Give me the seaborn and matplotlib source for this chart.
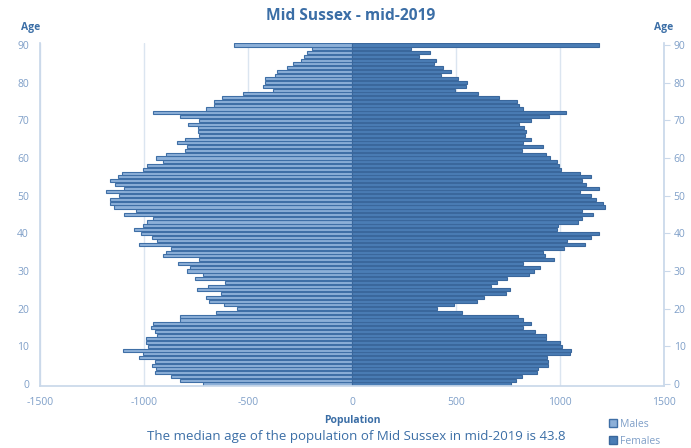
import numpy as np
import pandas as pd
import matplotlib
matplotlib.use("Agg")
import matplotlib.pyplot as plt
import seaborn as sns
from matplotlib.patches import Patch

ages = list(range(0, 91))
# Males (ages 0..90), shown as negative values
males = [-715, -825, -872, -946, -941, -962, -946, -1026, -1007, -1100,
         -981, -992, -992, -938, -949, -965, -957, -825, -825, -654,
         -551, -614, -689, -702, -630, -747, -692, -609, -755, -715,
         -793, -779, -835, -736, -907, -893, -869, -1026, -938, -963,
         -1013, -1047, -1005, -984, -957, -1095, -1039, -1146, -1165, -1162,
         -1122, -1183, -1095, -1139, -1165, -1125, -1104, -1005, -984, -909,
         -941, -893, -805, -792, -841, -801, -734, -740, -740, -788,
         -737, -829, -958, -702, -665, -665, -627, -522, -378, -429,
         -418, -417, -370, -359, -314, -282, -245, -229, -215, -194,
         -566]
females = [763, 787, 817, 891, 893, 941, 942, 936, 1047, 1051,
           1010, 998, 933, 933, 881, 822, 862, 822, 797, 529,
           407, 490, 599, 636, 739, 760, 668, 696, 744, 849,
           875, 904, 824, 973, 926, 920, 1019, 1120, 1035, 1148,
           1186, 986, 992, 1085, 1106, 1159, 1107, 1216, 1208, 1175,
           1148, 1096, 1189, 1127, 1104, 1148, 1096, 1005, 995, 986,
           952, 933, 817, 917, 821, 862, 832, 837, 827, 805,
           859, 946, 1027, 821, 801, 792, 707, 607, 495, 548,
           551, 510, 428, 476, 437, 394, 405, 322, 375, 285,
           1189]
x_ticks = [-1500, -1000, -500, 0, 500, 1000, 1500]
y_ticks = [0, 10, 20, 30, 40, 50, 60, 70, 80, 90]

df_m = pd.DataFrame({"Age": ages, "Population": males})
df_f = pd.DataFrame({"Age": ages, "Population": females})

sns.set_theme(style="white")
plt.rcParams['font.family'] = ['Open Sans', 'DejaVu Sans']

blue_text = "#3b6ea6"
tick_col = "#7f9fc8"
male_fill = "#8db0d8"
male_edge = "#3f6fa6"
fem_fill = "#4a7db5"
fem_edge = "#3a679c"

fig = plt.figure(figsize=(6.91, 4.48), dpi=100)
ax = fig.add_axes([0.0579, 0.1386, 0.903, 0.7652])

sns.barplot(data=df_m, x="Population", y="Age", orient="h", native_scale=True,
            color=male_fill, edgecolor=male_edge, linewidth=0.8, width=0.82,
            saturation=1, ax=ax)
sns.barplot(data=df_f, x="Population", y="Age", orient="h", native_scale=True,
            color=fem_fill, edgecolor=fem_edge, linewidth=0.8, width=0.82,
            saturation=1, ax=ax)

ax.set_xlim(-1500, 1500)
ax.set_ylim(-0.5, 90.5)
ax.set_xticks(x_ticks)
ax.set_xticklabels([str(v) for v in x_ticks])
ax.set_yticks(y_ticks)
ax.set_yticklabels([str(v) for v in y_ticks])
ax.tick_params(axis='both', colors=tick_col, labelsize=7.5, length=0)
ax.tick_params(axis='x', pad=8)
ax.tick_params(axis='y', pad=8)
for v in x_ticks:
    ax.axvline(v, color="#dbe5f0", lw=1, zorder=0)
for s in ["top", "right"]:
    ax.spines[s].set_visible(False)
ax.spines["left"].set_color("#c9d8ea")
ax.spines["bottom"].set_color("#c9d8ea")
ax.set_axisbelow(True)

ax.set_xlabel("Population", color=blue_text, fontsize=7.5, fontweight="bold", labelpad=5)
ax.set_ylabel("")

# right secondary age axis
ax2 = ax.twinx()
ax2.set_ylim(-0.5, 90.5)
ax2.set_yticks(y_ticks)
ax2.set_yticklabels([str(v) for v in y_ticks])
ax2.tick_params(axis='y', colors=tick_col, labelsize=7.5, length=4, width=0.8, pad=3, direction="out")
ax2.tick_params(axis='y', color="#c9d8ea")
for s in ["top", "left", "bottom"]:
    ax2.spines[s].set_visible(False)
ax2.spines["right"].set_color("#c9d8ea")

fig.text(0.044, 0.933, "Age", color=blue_text, fontsize=7.5, fontweight="bold", ha="center")
fig.text(0.960, 0.933, "Age", color=blue_text, fontsize=7.5, fontweight="bold", ha="center")

fig.text(0.507, 0.965, "Mid Sussex - mid-2019", color=blue_text, fontsize=11.2,
         fontweight="bold", ha="center", va="center")
fig.text(0.515, 0.025, "The median age of the population of Mid Sussex in mid-2019 is 43.8",
         color=blue_text, fontsize=9.5, ha="center", va="center")

handles = [Patch(facecolor=male_fill, edgecolor=male_edge, label="Males"),
           Patch(facecolor=fem_fill, edgecolor=fem_edge, label="Females")]
leg = fig.legend(handles=handles, loc="upper left", bbox_to_anchor=(0.875, 0.075),
                 frameon=False, fontsize=7.5, handlelength=0.8, handleheight=0.8,
                 handletextpad=0.3, labelspacing=0.6, borderaxespad=0)
for t in leg.get_texts():
    t.set_color(tick_col)

fig.savefig("out.png", dpi=100)
